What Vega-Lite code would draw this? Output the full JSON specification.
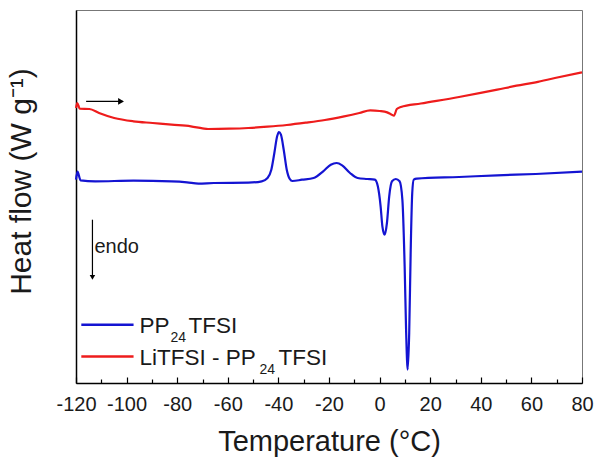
{
  "$schema": "https://vega.github.io/schema/vega-lite/v6.json",
  "width": 506,
  "height": 373,
  "autosize": "none",
  "padding": {"left": 76, "top": 10, "right": 18, "bottom": 81},
  "background": "white",
  "config": {
    "font": "Liberation Sans",
    "view": {"stroke": "#777", "strokeWidth": 1},
    "axis": {"grid": false}
  },
  "datasets": {
    "dsc": [
      {"series": "PP24TFSI", "temperature": -120.0, "heatflow": 203.3},
      {"series": "PP24TFSI", "temperature": -119.4, "heatflow": 211.3},
      {"series": "PP24TFSI", "temperature": -118.2, "heatflow": 202.7},
      {"series": "PP24TFSI", "temperature": -112.4, "heatflow": 201.7},
      {"series": "PP24TFSI", "temperature": -97.3, "heatflow": 202.3},
      {"series": "PP24TFSI", "temperature": -82.2, "heatflow": 201.7},
      {"series": "PP24TFSI", "temperature": -76.1, "heatflow": 200.7},
      {"series": "PP24TFSI", "temperature": -71.6, "heatflow": 199.3},
      {"series": "PP24TFSI", "temperature": -65.5, "heatflow": 200.0},
      {"series": "PP24TFSI", "temperature": -51.9, "heatflow": 200.3},
      {"series": "PP24TFSI", "temperature": -46.6, "heatflow": 201.7},
      {"series": "PP24TFSI", "temperature": -44.3, "heatflow": 205.0},
      {"series": "PP24TFSI", "temperature": -42.8, "heatflow": 213.3},
      {"series": "PP24TFSI", "temperature": -41.6, "heatflow": 230.0},
      {"series": "PP24TFSI", "temperature": -40.5, "heatflow": 246.7},
      {"series": "PP24TFSI", "temperature": -39.8, "heatflow": 251.0},
      {"series": "PP24TFSI", "temperature": -39.0, "heatflow": 248.3},
      {"series": "PP24TFSI", "temperature": -37.9, "heatflow": 233.3},
      {"series": "PP24TFSI", "temperature": -36.7, "heatflow": 213.3},
      {"series": "PP24TFSI", "temperature": -35.5, "heatflow": 204.0},
      {"series": "PP24TFSI", "temperature": -34.5, "heatflow": 202.0},
      {"series": "PP24TFSI", "temperature": -30.7, "heatflow": 203.3},
      {"series": "PP24TFSI", "temperature": -26.1, "heatflow": 205.0},
      {"series": "PP24TFSI", "temperature": -22.3, "heatflow": 211.7},
      {"series": "PP24TFSI", "temperature": -19.3, "heatflow": 218.3},
      {"series": "PP24TFSI", "temperature": -17.0, "heatflow": 220.0},
      {"series": "PP24TFSI", "temperature": -14.8, "heatflow": 217.7},
      {"series": "PP24TFSI", "temperature": -11.7, "heatflow": 210.0},
      {"series": "PP24TFSI", "temperature": -8.7, "heatflow": 205.0},
      {"series": "PP24TFSI", "temperature": -4.9, "heatflow": 204.0},
      {"series": "PP24TFSI", "temperature": -1.9, "heatflow": 203.3},
      {"series": "PP24TFSI", "temperature": -0.7, "heatflow": 196.7},
      {"series": "PP24TFSI", "temperature": 0.4, "heatflow": 176.7},
      {"series": "PP24TFSI", "temperature": 1.1, "heatflow": 156.7},
      {"series": "PP24TFSI", "temperature": 2.0, "heatflow": 148.3},
      {"series": "PP24TFSI", "temperature": 2.9, "heatflow": 160.0},
      {"series": "PP24TFSI", "temperature": 3.8, "heatflow": 186.7},
      {"series": "PP24TFSI", "temperature": 4.9, "heatflow": 201.7},
      {"series": "PP24TFSI", "temperature": 6.4, "heatflow": 204.0},
      {"series": "PP24TFSI", "temperature": 7.9, "heatflow": 201.7},
      {"series": "PP24TFSI", "temperature": 9.0, "heatflow": 183.3},
      {"series": "PP24TFSI", "temperature": 9.9, "heatflow": 116.7},
      {"series": "PP24TFSI", "temperature": 10.5, "heatflow": 50.0},
      {"series": "PP24TFSI", "temperature": 11.1, "heatflow": 13.3},
      {"series": "PP24TFSI", "temperature": 11.7, "heatflow": 50.0},
      {"series": "PP24TFSI", "temperature": 12.3, "heatflow": 133.3},
      {"series": "PP24TFSI", "temperature": 12.9, "heatflow": 190.0},
      {"series": "PP24TFSI", "temperature": 13.5, "heatflow": 203.3},
      {"series": "PP24TFSI", "temperature": 14.7, "heatflow": 204.3},
      {"series": "PP24TFSI", "temperature": 31.4, "heatflow": 206.0},
      {"series": "PP24TFSI", "temperature": 46.5, "heatflow": 207.7},
      {"series": "PP24TFSI", "temperature": 61.7, "heatflow": 209.0},
      {"series": "PP24TFSI", "temperature": 80.0, "heatflow": 211.3},
      {"series": "LiTFSI - PP24TFSI", "temperature": -120.0, "heatflow": 275.0},
      {"series": "LiTFSI - PP24TFSI", "temperature": -119.5, "heatflow": 280.0},
      {"series": "LiTFSI - PP24TFSI", "temperature": -118.5, "heatflow": 274.3},
      {"series": "LiTFSI - PP24TFSI", "temperature": -114.7, "heatflow": 274.0},
      {"series": "LiTFSI - PP24TFSI", "temperature": -110.9, "heatflow": 270.0},
      {"series": "LiTFSI - PP24TFSI", "temperature": -104.9, "heatflow": 265.0},
      {"series": "LiTFSI - PP24TFSI", "temperature": -97.3, "heatflow": 261.7},
      {"series": "LiTFSI - PP24TFSI", "temperature": -89.7, "heatflow": 260.0},
      {"series": "LiTFSI - PP24TFSI", "temperature": -82.2, "heatflow": 258.3},
      {"series": "LiTFSI - PP24TFSI", "temperature": -74.6, "heatflow": 256.7},
      {"series": "LiTFSI - PP24TFSI", "temperature": -70.0, "heatflow": 254.7},
      {"series": "LiTFSI - PP24TFSI", "temperature": -67.8, "heatflow": 254.0},
      {"series": "LiTFSI - PP24TFSI", "temperature": -59.4, "heatflow": 254.3},
      {"series": "LiTFSI - PP24TFSI", "temperature": -51.9, "heatflow": 255.0},
      {"series": "LiTFSI - PP24TFSI", "temperature": -44.3, "heatflow": 256.3},
      {"series": "LiTFSI - PP24TFSI", "temperature": -36.7, "heatflow": 258.0},
      {"series": "LiTFSI - PP24TFSI", "temperature": -29.2, "heatflow": 260.3},
      {"series": "LiTFSI - PP24TFSI", "temperature": -21.6, "heatflow": 263.0},
      {"series": "LiTFSI - PP24TFSI", "temperature": -14.0, "heatflow": 266.7},
      {"series": "LiTFSI - PP24TFSI", "temperature": -8.0, "heatflow": 270.0},
      {"series": "LiTFSI - PP24TFSI", "temperature": -3.7, "heatflow": 272.6},
      {"series": "LiTFSI - PP24TFSI", "temperature": 0.0, "heatflow": 272.0},
      {"series": "LiTFSI - PP24TFSI", "temperature": 3.0, "heatflow": 270.6},
      {"series": "LiTFSI - PP24TFSI", "temperature": 4.6, "heatflow": 268.6},
      {"series": "LiTFSI - PP24TFSI", "temperature": 5.7, "heatflow": 267.4},
      {"series": "LiTFSI - PP24TFSI", "temperature": 6.8, "heatflow": 274.0},
      {"series": "LiTFSI - PP24TFSI", "temperature": 8.4, "heatflow": 276.0},
      {"series": "LiTFSI - PP24TFSI", "temperature": 16.3, "heatflow": 279.5},
      {"series": "LiTFSI - PP24TFSI", "temperature": 31.4, "heatflow": 286.0},
      {"series": "LiTFSI - PP24TFSI", "temperature": 46.5, "heatflow": 293.3},
      {"series": "LiTFSI - PP24TFSI", "temperature": 54.1, "heatflow": 297.3},
      {"series": "LiTFSI - PP24TFSI", "temperature": 61.7, "heatflow": 300.7},
      {"series": "LiTFSI - PP24TFSI", "temperature": 69.3, "heatflow": 305.0},
      {"series": "LiTFSI - PP24TFSI", "temperature": 80.0, "heatflow": 310.7}
    ],
    "one": [{}]
  },
  "resolve": {"axis": {"x": "independent"}},
  "layer": [
    {
      "data": {"name": "dsc"},
      "mark": {"type": "line", "strokeWidth": 2.2, "interpolate": "monotone"},
      "encoding": {
        "x": {
          "field": "temperature", "type": "quantitative",
          "scale": {"domain": [-120, 80], "nice": false, "zero": false},
          "axis": {
            "orient": "bottom",
            "values": [-120, -100, -80, -60, -40, -20, 0, 20, 40, 60, 80],
            "labelExpr": "toString(datum.value)",
            "tickSize": -6, "tickColor": "#000", "tickWidth": 1.2,
            "domainColor": "#000", "domainWidth": 1.5,
            "labelFontSize": 20, "labelColor": "#1a1a1a", "labelPadding": 17,
            "labelFlush": false, "labelOverlap": false, "labelBound": false,
            "title": "Temperature (°C)", "titleFontSize": 29, "titleFontWeight": "normal",
            "titleColor": "#1a1a1a", "titlePadding": 13
          }
        },
        "y": {
          "field": "heatflow", "type": "quantitative",
          "scale": {"domain": [0, 373], "nice": false, "zero": false},
          "axis": {
            "ticks": false, "labels": false,
            "domainColor": "#000", "domainWidth": 1.5,
            "title": "Heat flow (W g⁻¹)", "titleFontSize": 30, "titleFontWeight": "normal",
            "titleColor": "#1a1a1a", "titlePadding": 40, "titleY": 171
          }
        },
        "color": {
          "field": "series", "type": "nominal",
          "scale": {"domain": ["PP24TFSI", "LiTFSI - PP24TFSI"], "range": ["#1414d2", "#ee1c1c"]},
          "legend": null
        }
      }
    },
    {
      "data": {"name": "one"},
      "mark": {"type": "rule", "color": "#000", "strokeWidth": 1.2},
      "encoding": {
        "x": {
          "datum": -116, "type": "quantitative",
          "axis": {
            "orient": "bottom",
            "values": [-110, -90, -70, -50, -30, -10, 10, 30, 50, 70],
            "tickSize": -4, "tickColor": "#000", "tickWidth": 1.2,
            "labels": false, "domain": false, "title": null
          }
        },
        "x2": {"datum": -101.5},
        "y": {"datum": 281.6, "type": "quantitative"}
      }
    },
    {
      "data": {"name": "one"},
      "mark": {"type": "point", "shape": "triangle-right", "filled": true, "color": "#000", "opacity": 1, "size": 45},
      "encoding": {
        "x": {"datum": -102.2, "type": "quantitative", "axis": null},
        "y": {"datum": 281.6, "type": "quantitative"}
      }
    },
    {
      "data": {"name": "one"},
      "mark": {"type": "rule", "color": "#000", "strokeWidth": 1.2},
      "encoding": {
        "x": {"datum": -113.5, "type": "quantitative", "axis": null},
        "y": {"datum": 163.3, "type": "quantitative"},
        "y2": {"datum": 106}
      }
    },
    {
      "data": {"name": "one"},
      "mark": {"type": "point", "shape": "triangle-down", "filled": true, "color": "#000", "opacity": 1, "size": 30},
      "encoding": {
        "x": {"datum": -113.5, "type": "quantitative", "axis": null},
        "y": {"datum": 105.6, "type": "quantitative"}
      }
    },
    {
      "data": {"name": "one"},
      "mark": {"type": "text", "text": "endo", "fontSize": 20, "align": "left", "baseline": "alphabetic", "color": "#1a1a1a"},
      "encoding": {
        "x": {"datum": -112.7, "type": "quantitative", "axis": null},
        "y": {"datum": 130, "type": "quantitative"}
      }
    },
    {
      "data": {"name": "one"},
      "mark": {"type": "rule", "color": "#1414d2", "strokeWidth": 2.5},
      "encoding": {
        "x": {"datum": -117.9, "type": "quantitative", "axis": null},
        "x2": {"datum": -97.25},
        "y": {"datum": 58.3, "type": "quantitative"}
      }
    },
    {
      "data": {"name": "one"},
      "mark": {"type": "rule", "color": "#ee1c1c", "strokeWidth": 2.5},
      "encoding": {
        "x": {"datum": -117.9, "type": "quantitative", "axis": null},
        "x2": {"datum": -97.25},
        "y": {"datum": 26.6, "type": "quantitative"}
      }
    },
    {
      "data": {"name": "one"},
      "mark": {"type": "text", "text": "PP", "fontSize": 22.5, "align": "left", "baseline": "alphabetic", "color": "#1a1a1a"},
      "encoding": {
        "x": {"datum": -94.9, "type": "quantitative", "axis": null},
        "y": {"datum": 50, "type": "quantitative"}
      }
    },
    {
      "data": {"name": "one"},
      "mark": {"type": "text", "text": "24", "fontSize": 14, "align": "left", "baseline": "alphabetic", "color": "#1a1a1a", "dx": 31},
      "encoding": {
        "x": {"datum": -94.9, "type": "quantitative", "axis": null},
        "y": {"datum": 41, "type": "quantitative"}
      }
    },
    {
      "data": {"name": "one"},
      "mark": {"type": "text", "text": "TFSI", "fontSize": 22.5, "align": "left", "baseline": "alphabetic", "color": "#1a1a1a", "dx": 49},
      "encoding": {
        "x": {"datum": -94.9, "type": "quantitative", "axis": null},
        "y": {"datum": 50, "type": "quantitative"}
      }
    },
    {
      "data": {"name": "one"},
      "mark": {"type": "text", "text": "LiTFSI - PP", "fontSize": 22.5, "align": "left", "baseline": "alphabetic", "color": "#1a1a1a"},
      "encoding": {
        "x": {"datum": -94.9, "type": "quantitative", "axis": null},
        "y": {"datum": 18.3, "type": "quantitative"}
      }
    },
    {
      "data": {"name": "one"},
      "mark": {"type": "text", "text": "24", "fontSize": 14, "align": "left", "baseline": "alphabetic", "color": "#1a1a1a", "dx": 120},
      "encoding": {
        "x": {"datum": -94.9, "type": "quantitative", "axis": null},
        "y": {"datum": 9.3, "type": "quantitative"}
      }
    },
    {
      "data": {"name": "one"},
      "mark": {"type": "text", "text": "TFSI", "fontSize": 22.5, "align": "left", "baseline": "alphabetic", "color": "#1a1a1a", "dx": 139},
      "encoding": {
        "x": {"datum": -94.9, "type": "quantitative", "axis": null},
        "y": {"datum": 18.3, "type": "quantitative"}
      }
    }
  ]
}
